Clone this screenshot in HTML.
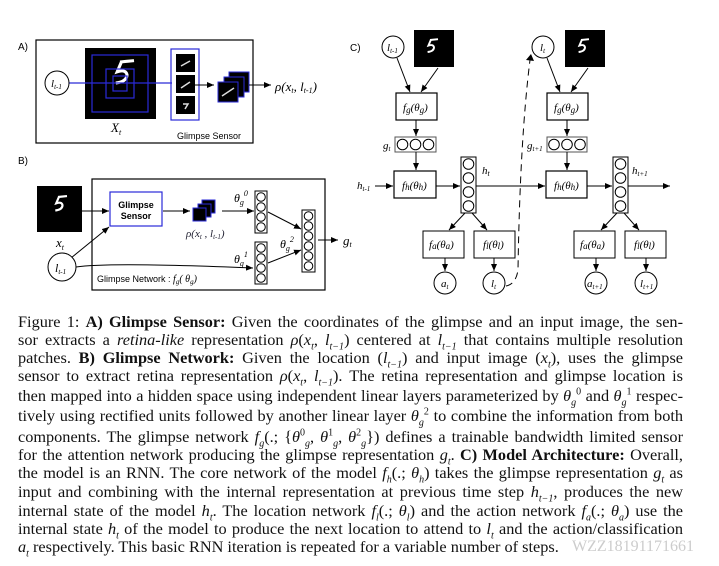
<!DOCTYPE html>
<html><head><meta charset="utf-8"><style>
body{margin:0;width:719px;height:566px;background:#fff;overflow:hidden;position:relative;font-family:"Liberation Serif",serif}
svg{position:absolute;left:0;top:0}
.l{position:absolute;left:18px;width:665px;height:18px;font-size:16.3px;line-height:18px;text-align:justify;text-align-last:justify;white-space:nowrap;color:#111}
.l.n{text-align-last:left}
sub,sup{line-height:0;font-size:10px}
i{font-style:italic}
</style></head><body>
<svg width="719" height="300" viewBox="0 0 719 300" font-family="Liberation Serif" >
<defs>
<marker id="a" markerWidth="8" markerHeight="8" refX="7" refY="3" orient="auto" markerUnits="userSpaceOnUse"><path d="M0,0 L7,3 L0,6z" fill="#000"/></marker>
<g id="col4"><rect x="0" y="0" width="12" height="42" fill="#fff" stroke="#000"/><circle cx="6" cy="6" r="4.3" fill="none" stroke="#000"/><circle cx="6" cy="16" r="4.3" fill="none" stroke="#000"/><circle cx="6" cy="26" r="4.3" fill="none" stroke="#000"/><circle cx="6" cy="36" r="4.3" fill="none" stroke="#000"/></g>
<path id="five" d="M0,0 l10,-1 M1,0 l-3,7 q6,-2 7,2 q0,5 -8,6" stroke="#fff" fill="none"/>
</defs>
<g font-family="Liberation Sans" font-size="10"><text x="18" y="50">A)</text><text x="18" y="164">B)</text><text x="350" y="51">C)</text></g>
<!-- A -->
<rect x="36" y="40" width="217" height="103" fill="none" stroke="#000" stroke-width="1.2"/>
<rect x="85" y="48" width="71" height="71" fill="#000"/>
<use href="#five" transform="translate(120,62) scale(1.4)" stroke-width="2.2"/>
<g fill="none" stroke="#2a2ad8" stroke-width="1.2"><rect x="92" y="55" width="56" height="57"/><rect x="106" y="69" width="28" height="29"/><rect x="113" y="76" width="14" height="15"/><line x1="69" y1="83" x2="172" y2="83"/><rect x="171" y="49" width="28" height="71"/></g>
<circle cx="57" cy="83" r="12" fill="#fff" stroke="#000"/>
<text x="51" y="87" font-size="11" font-style="italic">l<tspan font-size="7" dy="2">t-1</tspan></text>
<rect x="176" y="54" width="19" height="18" fill="#000"/><rect x="176" y="75" width="19" height="18" fill="#000"/><rect x="176" y="96" width="19" height="18" fill="#000"/>
<path d="M181,66 l9,-5 M181,88 l9,-6 M183,104 l5,0 l-3,5" stroke="#ddd" stroke-width="1.5" fill="none"/>
<line x1="195" y1="85" x2="214" y2="85" stroke="#000" marker-end="url(#a)"/>
<rect x="229" y="72" width="20" height="20" fill="#000" stroke="#2a2ad8"/><rect x="224" y="77" width="20" height="20" fill="#000" stroke="#2a2ad8"/><rect x="218" y="82" width="20" height="20" fill="#000" stroke="#2a2ad8"/>
<path d="M222,96 l12,-8" stroke="#ddd" stroke-width="1.5"/>
<line x1="249" y1="85" x2="271" y2="85" stroke="#000" marker-end="url(#a)"/>
<text x="275" y="91" font-size="13" font-style="italic">ρ(x<tspan font-size="8" dy="2">t</tspan><tspan dy="-2">, l</tspan><tspan font-size="8" dy="2">t-1</tspan><tspan dy="-2">)</tspan></text>
<text x="111" y="132" font-size="13" font-style="italic">X<tspan font-size="8" dy="3">t</tspan></text>
<text x="177" y="139" font-size="9" font-family="Liberation Sans">Glimpse Sensor</text>
<!-- B -->
<rect x="37" y="186" width="45" height="46" fill="#000"/>
<use href="#five" transform="translate(58,197) scale(0.9)" stroke-width="2.4"/>
<text x="56" y="247" font-size="13" font-style="italic">x<tspan font-size="8" dy="3">t</tspan></text>
<rect x="92" y="179" width="233" height="111" fill="none" stroke="#000" stroke-width="1.2"/>
<rect x="110" y="192" width="52" height="34" fill="#fff" stroke="#2a2ad8" stroke-width="1.2"/>
<text x="136" y="208" font-size="9" font-family="Liberation Sans" font-weight="bold" text-anchor="middle">Glimpse</text>
<text x="136" y="219" font-size="9" font-family="Liberation Sans" font-weight="bold" text-anchor="middle">Sensor</text>
<line x1="82" y1="211" x2="109" y2="211" stroke="#000" marker-end="url(#a)"/>
<line x1="71" y1="258" x2="109" y2="227" stroke="#000" marker-end="url(#a)"/>
<path d="M76,267 Q110,262 253,268" fill="none" stroke="#000" marker-end="url(#a)"/>
<circle cx="62" cy="267" r="14" fill="#fff" stroke="#000"/>
<text x="55" y="272" font-size="12" font-style="italic">l<tspan font-size="7" dy="2">t-1</tspan></text>
<line x1="163" y1="211" x2="190" y2="211" stroke="#000" marker-end="url(#a)"/>
<rect x="202" y="200" width="13" height="13" fill="#000" stroke="#2a2ad8"/><rect x="198" y="204" width="13" height="13" fill="#000" stroke="#2a2ad8"/><rect x="193" y="208" width="13" height="13" fill="#000" stroke="#2a2ad8"/>
<text x="186" y="237" font-size="11" font-style="italic" fill="#223">ρ(x<tspan font-size="7" dy="2">t</tspan><tspan dy="-2"> , l</tspan><tspan font-size="7" dy="2">t-1</tspan><tspan dy="-2">)</tspan></text>
<line x1="222" y1="211" x2="254" y2="211" stroke="#000" marker-end="url(#a)"/>
<text x="234" y="202" font-size="12" font-style="italic">θ<tspan font-size="8" dy="3">g</tspan><tspan font-size="8" dy="-9">0</tspan></text>
<text x="234" y="263" font-size="12" font-style="italic">θ<tspan font-size="8" dy="3">g</tspan><tspan font-size="8" dy="-9">1</tspan></text>
<text x="280" y="248" font-size="12" font-style="italic">θ<tspan font-size="8" dy="3">g</tspan><tspan font-size="8" dy="-9">2</tspan></text>
<use href="#col4" x="255" y="191"/><use href="#col4" x="255" y="242"/>
<rect x="302" y="210" width="13" height="62" fill="#fff" stroke="#000"/>
<g fill="none" stroke="#000"><circle cx="308.5" cy="216" r="4.3"/><circle cx="308.5" cy="226" r="4.3"/><circle cx="308.5" cy="236" r="4.3"/><circle cx="308.5" cy="246" r="4.3"/><circle cx="308.5" cy="256" r="4.3"/><circle cx="308.5" cy="266" r="4.3"/></g>
<line x1="268" y1="212" x2="301" y2="229" stroke="#000" marker-end="url(#a)"/>
<line x1="268" y1="263" x2="301" y2="250" stroke="#000" marker-end="url(#a)"/>
<line x1="318" y1="240" x2="338" y2="240" stroke="#000" marker-end="url(#a)"/>
<text x="343" y="245" font-size="13" font-style="italic">g<tspan font-size="8" dy="2">t</tspan></text>
<text x="97" y="282" font-size="9" font-family="Liberation Sans">Glimpse Network : <tspan font-family="Liberation Serif" font-style="italic" font-size="10">f<tspan font-size="7" dy="2">g</tspan><tspan dy="-2">( θ</tspan><tspan font-size="7" dy="2">g</tspan><tspan dy="-2">)</tspan></tspan></text>
<!-- C -->
<g font-style="italic" font-size="11">
<rect x="414" y="30" width="40" height="37" fill="#000"/><use href="#five" transform="translate(430,40) scale(0.8)" stroke-width="2.4"/>
<rect x="565" y="30" width="40" height="37" fill="#000"/><use href="#five" transform="translate(581,40) scale(0.8)" stroke-width="2.4"/>
<circle cx="393" cy="47" r="11" fill="#fff" stroke="#000"/><text x="387" y="51">l<tspan font-size="7" dy="2">t-1</tspan></text>
<circle cx="543" cy="47" r="11" fill="#fff" stroke="#000"/><text x="540" y="51">l<tspan font-size="7" dy="2">t</tspan></text>
<g stroke="#000" fill="none">
<line x1="397" y1="58" x2="410" y2="92" marker-end="url(#a)"/><line x1="438" y1="68" x2="421" y2="92" marker-end="url(#a)"/>
<line x1="547" y1="58" x2="560" y2="92" marker-end="url(#a)"/><line x1="588" y1="68" x2="571" y2="92" marker-end="url(#a)"/>
<rect x="396" y="93" width="41" height="27" stroke-width="1.2"/><rect x="547" y="93" width="41" height="27" stroke-width="1.2"/>
<line x1="416" y1="120" x2="416" y2="136" marker-end="url(#a)"/><line x1="567" y1="120" x2="567" y2="136" marker-end="url(#a)"/>
<rect x="395" y="137" width="41" height="15" stroke="#555"/><rect x="547" y="137" width="40" height="15" stroke="#555"/>
<circle cx="402.5" cy="144.5" r="5.3"/><circle cx="415.5" cy="144.5" r="5.3"/><circle cx="428.5" cy="144.5" r="5.3"/>
<circle cx="554" cy="144.5" r="5.3"/><circle cx="567" cy="144.5" r="5.3"/><circle cx="580" cy="144.5" r="5.3"/>
<line x1="416" y1="152" x2="416" y2="170" marker-end="url(#a)"/><line x1="567" y1="152" x2="567" y2="170" marker-end="url(#a)"/>
<rect x="394" y="171" width="42" height="27" stroke-width="1.2"/><rect x="546" y="171" width="41" height="27" stroke-width="1.2"/>
<line x1="375" y1="186" x2="393" y2="186" marker-end="url(#a)"/>
<line x1="436" y1="186" x2="460" y2="186" marker-end="url(#a)"/>
<line x1="476" y1="186" x2="545" y2="186" marker-end="url(#a)"/>
<line x1="587" y1="186" x2="612" y2="186" marker-end="url(#a)"/>
<line x1="628" y1="186" x2="670" y2="186" marker-end="url(#a)"/>
<rect x="461" y="157" width="15" height="56"/><rect x="613" y="157" width="15" height="56"/>
<circle cx="468.5" cy="164" r="5.3"/><circle cx="468.5" cy="178" r="5.3"/><circle cx="468.5" cy="192" r="5.3"/><circle cx="468.5" cy="206" r="5.3"/>
<circle cx="620.5" cy="164" r="5.3"/><circle cx="620.5" cy="178" r="5.3"/><circle cx="620.5" cy="192" r="5.3"/><circle cx="620.5" cy="206" r="5.3"/>
<line x1="465" y1="213" x2="449" y2="230" marker-end="url(#a)"/><line x1="472" y1="213" x2="487" y2="230" marker-end="url(#a)"/>
<line x1="617" y1="213" x2="601" y2="230" marker-end="url(#a)"/><line x1="624" y1="213" x2="639" y2="230" marker-end="url(#a)"/>
<rect x="423" y="231" width="41" height="27"/><rect x="474" y="231" width="41" height="27"/>
<rect x="574" y="231" width="41" height="27"/><rect x="625" y="231" width="41" height="27"/>
<line x1="445" y1="258" x2="445" y2="271" marker-end="url(#a)"/><line x1="494" y1="258" x2="494" y2="271" marker-end="url(#a)"/>
<line x1="596" y1="258" x2="596" y2="271" marker-end="url(#a)"/><line x1="646" y1="258" x2="646" y2="271" marker-end="url(#a)"/>
<circle cx="445" cy="283" r="11"/><circle cx="494" cy="283" r="11"/><circle cx="596" cy="283" r="11"/><circle cx="646" cy="283" r="11"/>
<path d="M506,286 Q516,284 518,270 Q520,140 530,60" stroke-dasharray="7,5"/>
</g>
<path d="M526,60 L531,54 L534,61z" fill="#000"/>
<text x="403" y="111">f<tspan font-size="9" dy="2">g</tspan><tspan dy="-2">(θ</tspan><tspan font-size="9" dy="2">g</tspan><tspan dy="-2">)</tspan></text>
<text x="554" y="111">f<tspan font-size="9" dy="2">g</tspan><tspan dy="-2">(θ</tspan><tspan font-size="9" dy="2">g</tspan><tspan dy="-2">)</tspan></text>
<text x="402" y="189">f<tspan font-size="9" dy="1">h</tspan><tspan dy="-1">(θ</tspan><tspan font-size="9" dy="1">h</tspan><tspan dy="-1">)</tspan></text>
<text x="554" y="189">f<tspan font-size="9" dy="1">h</tspan><tspan dy="-1">(θ</tspan><tspan font-size="9" dy="1">h</tspan><tspan dy="-1">)</tspan></text>
<text x="429" y="248">f<tspan font-size="9" dy="1">a</tspan><tspan dy="-1">(θ</tspan><tspan font-size="9" dy="1">a</tspan><tspan dy="-1">)</tspan></text>
<text x="580" y="248">f<tspan font-size="9" dy="1">a</tspan><tspan dy="-1">(θ</tspan><tspan font-size="9" dy="1">a</tspan><tspan dy="-1">)</tspan></text>
<text x="483" y="248">f<tspan font-size="9" dy="1">l</tspan><tspan dy="-1">(θ</tspan><tspan font-size="9" dy="1">l</tspan><tspan dy="-1">)</tspan></text>
<text x="634" y="248">f<tspan font-size="9" dy="1">l</tspan><tspan dy="-1">(θ</tspan><tspan font-size="9" dy="1">l</tspan><tspan dy="-1">)</tspan></text>
<text x="383" y="149">g<tspan font-size="7" dy="2">t</tspan></text>
<text x="527" y="149">g<tspan font-size="7" dy="2">t+1</tspan></text>
<text x="357" y="189">h<tspan font-size="7" dy="2">t-1</tspan></text>
<text x="482" y="174">h<tspan font-size="8" dy="2">t</tspan></text>
<text x="632" y="174">h<tspan font-size="7" dy="2">t+1</tspan></text>
<text x="441" y="287">a<tspan font-size="7" dy="2">t</tspan></text>
<text x="491" y="287">l<tspan font-size="7" dy="2">t</tspan></text>
<text x="587" y="287">a<tspan font-size="7" dy="2">t+1</tspan></text>
<text x="640" y="287">l<tspan font-size="7" dy="2">t+1</tspan></text>
</g>
</svg>
<div class="l" style="top:313px">Figure 1: <b>A) Glimpse Sensor:</b> Given the coordinates of the glimpse and an input image, the sen-</div>
<div class="l" style="top:331px">sor extracts a <i>retina-like</i> representation <i>ρ</i>(<i>x<sub>t</sub></i>, <i>l<sub>t−1</sub></i>) centered at <i>l<sub>t−1</sub></i> that contains multiple resolution</div>
<div class="l" style="top:349px">patches. <b>B) Glimpse Network:</b> Given the location (<i>l<sub>t−1</sub></i>) and input image (<i>x<sub>t</sub></i>), uses the glimpse</div>
<div class="l" style="top:367px">sensor to extract retina representation <i>ρ</i>(<i>x<sub>t</sub></i>, <i>l<sub>t−1</sub></i>). The retina representation and glimpse location is</div>
<div class="l" style="top:387px">then mapped into a hidden space using independent linear layers parameterized by <i>θ</i><sub><i>g</i></sub><sup>0</sup> and <i>θ</i><sub><i>g</i></sub><sup>1</sup> respec-</div>
<div class="l" style="top:407px">tively using rectified units followed by another linear layer <i>θ</i><sub><i>g</i></sub><sup>2</sup> to combine the information from both</div>
<div class="l" style="top:428px">components. The glimpse network <i>f<sub>g</sub></i>(.; {<i>θ</i><sup>0</sup><sub><i>g</i></sub>, <i>θ</i><sup>1</sup><sub><i>g</i></sub>, <i>θ</i><sup>2</sup><sub><i>g</i></sub>}) defines a trainable bandwidth limited sensor</div>
<div class="l" style="top:446px">for the attention network producing the glimpse representation <i>g<sub>t</sub></i>. <b>C) Model Architecture:</b> Overall,</div>
<div class="l" style="top:464px">the model is an RNN. The core network of the model <i>f<sub>h</sub></i>(.; <i>θ<sub>h</sub></i>) takes the glimpse representation <i>g<sub>t</sub></i> as</div>
<div class="l" style="top:483px">input and combining with the internal representation at previous time step <i>h<sub>t−1</sub></i>, produces the new</div>
<div class="l" style="top:502px">internal state of the model <i>h<sub>t</sub></i>. The location network <i>f<sub>l</sub></i>(.; <i>θ<sub>l</sub></i>) and the action network <i>f<sub>a</sub></i>(.; <i>θ<sub>a</sub></i>) use the</div>
<div class="l" style="top:520px">internal state <i>h<sub>t</sub></i> of the model to produce the next location to attend to <i>l<sub>t</sub></i> and the action/classification</div>
<div class="l n" style="top:538px"><i>a<sub>t</sub></i> respectively. This basic RNN iteration is repeated for a variable number of steps.</div>
<div style="position:absolute;left:572px;top:538px;font-size:16px;color:#ccc;font-family:'Liberation Serif',serif;line-height:18px">WZZ18191171661</div>
</body></html>
